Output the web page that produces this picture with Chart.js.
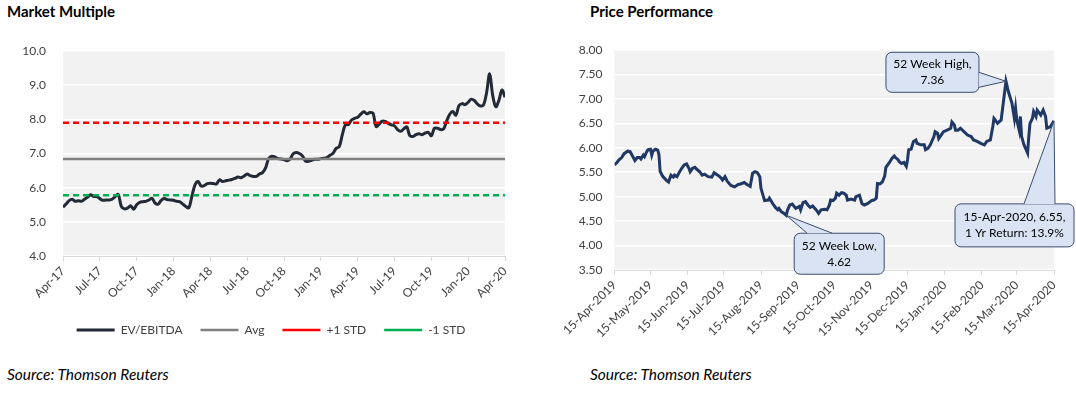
<!DOCTYPE html>
<html>
<head>
<meta charset="utf-8">
<script src="https://cdn.jsdelivr.net/npm/chart.js@4.4.1/dist/chart.umd.min.js"></script>
<style>
  body { margin: 0; width: 1076px; height: 395px; background: #fff; position: relative; overflow: hidden; font-family: Lato, sans-serif; }
  .title { position: absolute; top: 2px; font-weight: bold; font-size: 15px; color: #000; white-space: nowrap; }
  .source { position: absolute; top: 365px; font-style: italic; font-size: 15.5px; color: #000; white-space: nowrap; }
  canvas { position: absolute; top: 0; }
  #multipleChart { left: 0; }
  #priceChart { left: 540px; }
</style>
</head>
<body>
<div class="title" style="left:7px">Market Multiple</div>
<div class="title" style="left:590px">Price Performance</div>
<canvas id="multipleChart" width="540" height="360"></canvas>
<canvas id="priceChart" width="536" height="360"></canvas>
<div class="source" style="left:7px">Source: Thomson Reuters</div>
<div class="source" style="left:590px">Source: Thomson Reuters</div>

<script>
// Market multiple : EV/EBITDA, un point par quart de mois (avr. 2017 -> avr. 2020)
const multipleTickLabels = ["Apr-17", "Jul-17", "Oct-17", "Jan-18", "Apr-18", "Jul-18", "Oct-18",
  "Jan-19", "Apr-19", "Jul-19", "Oct-19", "Jan-20", "Apr-20"];
const multipleTickMonths = [0, 3, 6, 9, 12, 15, 18, 21, 24, 27, 30, 33, 36];
const evEbitda = [
  5.43, 5.52, 5.62, 5.66, 5.60, 5.62, 5.60, 5.66, 5.72, 5.79, 5.74, 5.74,
  5.68, 5.63, 5.64, 5.64, 5.66, 5.74, 5.80, 5.45, 5.38, 5.40, 5.47, 5.37,
  5.50, 5.57, 5.59, 5.60, 5.64, 5.69, 5.55, 5.52, 5.63, 5.68, 5.65, 5.64,
  5.63, 5.60, 5.59, 5.52, 5.45, 5.41, 5.75, 6.08, 6.18, 6.05, 6.06, 6.12,
  6.13, 6.12, 6.11, 6.23, 6.18, 6.20, 6.22, 6.24, 6.27, 6.31, 6.29, 6.34,
  6.40, 6.35, 6.33, 6.33, 6.40, 6.44, 6.58, 6.85, 6.92, 6.90, 6.85, 6.84,
  6.82, 6.79, 6.84, 6.99, 7.03, 7.00, 6.93, 6.78, 6.77, 6.80, 6.83, 6.83,
  6.85, 6.86, 6.88, 6.95, 7.01, 7.15, 7.20, 7.55, 7.84, 7.85, 7.98, 8.03,
  8.06, 8.15, 8.22, 8.16, 8.20, 8.18, 7.79, 7.86, 7.95, 7.94, 7.88, 7.84,
  7.81, 7.70, 7.65, 7.72, 7.78, 7.52, 7.50, 7.55, 7.58, 7.55, 7.60, 7.62,
  7.52, 7.74, 7.74, 7.70, 7.72, 7.95, 8.15, 8.23, 8.12, 8.40, 8.46, 8.43,
  8.50, 8.59, 8.55, 8.45, 8.39, 8.42, 8.78, 9.33, 8.70, 8.37, 8.55, 8.86,
  8.65
];
const evAvg = 6.84;
const evPlusStd = 7.90;
const evMinusStd = 5.78;

// Price performance : jours depuis le 15-Apr-2019 et cours
const priceTickLabels = ["15-Apr-2019", "15-May-2019", "15-Jun-2019", "15-Jul-2019", "15-Aug-2019",
  "15-Sep-2019", "15-Oct-2019", "15-Nov-2019", "15-Dec-2019", "15-Jan-2020", "15-Feb-2020",
  "15-Mar-2020", "15-Apr-2020"];
const priceTickDays = [0, 30, 61, 91, 122, 153, 183, 214, 244, 275, 306, 335, 366];
const priceDays = [
  0, 2, 4, 6, 8, 11, 13, 15, 17, 19, 21, 22, 24, 25, 27, 28, 30, 31, 32, 34, 36, 37, 38, 40,
  43, 45, 47, 49, 50, 52, 54, 56, 58, 60, 62, 63, 65, 67, 69, 71, 73, 75, 78, 81, 83, 86,
  88, 90, 92, 94, 97, 100, 103, 105, 108, 111, 113, 115, 117, 119, 121, 122, 124, 125, 128,
  129, 132, 134, 136, 137, 139, 141, 143, 144, 146, 148, 151, 154, 155, 157, 159, 161, 163,
  165, 168, 170, 172, 175, 177, 179, 180, 182, 184, 185, 187, 189, 191, 193, 194, 197, 200,
  201, 204, 206, 208, 211, 214, 216, 218, 219, 221, 223, 225, 226, 229, 231, 233, 234, 236,
  237, 239, 241, 243, 244, 245, 247, 249, 251, 252, 255, 258, 259, 261, 263, 266, 267, 269,
  270, 272, 274, 277, 280, 281, 283, 284, 286, 288, 291, 294, 297, 299, 302, 305, 308, 310,
  313, 315, 316, 317, 319, 322, 326, 328, 331, 333, 334, 335, 337, 338, 339, 341, 344, 345,
  346, 348, 349, 351, 352, 355, 357, 359, 360, 363, 366
];
const priceValues = [
  5.65, 5.70, 5.76, 5.80, 5.88, 5.93, 5.92, 5.83, 5.74, 5.80, 5.80, 5.77, 5.85, 5.82, 5.93, 5.96,
  5.97, 5.85, 5.93, 5.97, 5.95, 5.86, 5.52, 5.42, 5.34, 5.30, 5.44, 5.40, 5.44, 5.41, 5.50, 5.58,
  5.65, 5.67, 5.58, 5.51, 5.58, 5.60, 5.55, 5.51, 5.44, 5.46, 5.41, 5.40, 5.49, 5.44, 5.40, 5.34,
  5.41, 5.31, 5.23, 5.20, 5.25, 5.26, 5.29, 5.24, 5.21, 5.48, 5.51, 5.49, 5.41, 5.17, 5.00, 4.92,
  4.93, 4.97, 4.85, 4.78, 4.73, 4.76, 4.69, 4.66, 4.62, 4.72, 4.83, 4.85, 4.76, 4.80, 4.73, 4.88,
  4.90, 4.83, 4.78, 4.81, 4.73, 4.66, 4.73, 4.74, 4.73, 4.83, 4.93, 4.92, 4.97, 5.07, 5.03, 5.08,
  5.07, 5.03, 4.93, 4.95, 4.93, 5.00, 5.03, 4.86, 4.83, 4.86, 4.92, 4.93, 4.97, 5.27, 5.26, 5.30,
  5.42, 5.60, 5.70, 5.78, 5.83, 5.80, 5.76, 5.72, 5.68, 5.70, 5.62, 5.75, 5.96, 5.97, 6.13, 6.16,
  6.09, 6.06, 6.06, 5.96, 5.99, 6.06, 6.23, 6.33, 6.30, 6.19, 6.26, 6.33, 6.36, 6.40, 6.53, 6.47,
  6.36, 6.36, 6.40, 6.33, 6.26, 6.23, 6.16, 6.13, 6.09, 6.06, 6.13, 6.16, 6.43, 6.60, 6.57, 6.50,
  6.57, 7.36, 7.15, 6.91, 6.60, 6.81, 6.57, 6.36, 6.64, 6.23, 6.06, 5.89, 6.23, 6.50, 6.60, 6.74,
  6.64, 6.77, 6.67, 6.77, 6.64, 6.40, 6.43, 6.55
];

const tickFont = { family: "Lato", size: 12 };
const tickColor = "#404040";

const plotBackground = {
  id: "plotBackground",
  beforeDraw(chart) {
    const { ctx, chartArea: a } = chart;
    ctx.save();
    ctx.fillStyle = "#F2F2F2";
    ctx.fillRect(a.left, a.top, a.right - a.left, a.bottom - a.top);
    ctx.restore();
  }
};

// recentre la légende sous le graphique de gauche
const legendShift = {
  id: "legendShift",
  afterLayout(chart) {
    chart.legend.left += 10.5;
    chart.legend.right += 10.5;
  }
};

// bulles d'annotation : position de la boîte relative au point visé
const priceCallouts = [
  { index: priceValues.indexOf(7.36), lines: ["52 Week High,", "7.36"],
    box: [-120, -29, 93, 40], base: "right", b1: -9, b2: 6 },
  { index: priceValues.indexOf(4.62), lines: ["52 Week Low,", "4.62"],
    box: [8, 18, 90, 41], base: "top", b1: 21, b2: 46 },
  { index: priceValues.length - 1, lines: ["15-Apr-2020, 6.55,", "1 Yr Return: 13.9%"],
    box: [-99, 83, 119, 43], base: "top", b1: -30, b2: 1 }
];

const calloutPlugin = {
  id: "callouts",
  afterDatasetsDraw(chart) {
    const { ctx, scales } = chart;
    priceCallouts.forEach(c => {
      const tx = scales.x.getPixelForValue(priceDays[c.index]);
      const ty = scales.y.getPixelForValue(priceValues[c.index]);
      const bx = tx + c.box[0], by = ty + c.box[1], bw = c.box[2], bh = c.box[3];
      let p1, p2;
      if (c.base === "right") {
        p1 = [bx + bw, ty + c.b1]; p2 = [bx + bw, ty + c.b2];
      } else {
        p1 = [tx + c.b1, by]; p2 = [tx + c.b2, by];
      }
      ctx.save();
      ctx.fillStyle = "#DAE3F3";
      ctx.strokeStyle = "#3A4D6E";
      ctx.lineWidth = 1;
      ctx.beginPath();
      ctx.roundRect(bx, by, bw, bh, 6);
      ctx.fill();
      ctx.stroke();
      ctx.beginPath();
      ctx.moveTo(p1[0], p1[1]);
      ctx.lineTo(tx, ty);
      ctx.lineTo(p2[0], p2[1]);
      ctx.closePath();
      ctx.fill();
      ctx.beginPath();
      ctx.moveTo(p1[0], p1[1]);
      ctx.lineTo(tx, ty);
      ctx.lineTo(p2[0], p2[1]);
      ctx.stroke();
      ctx.fillStyle = "#000";
      ctx.font = "12px Lato";
      ctx.textAlign = "center";
      ctx.textBaseline = "middle";
      const cy = by + bh / 2;
      ctx.fillText(c.lines[0], bx + bw / 2, cy - 8);
      ctx.fillText(c.lines[1], bx + bw / 2, cy + 8);
      ctx.restore();
    });
  }
};

new Chart(document.getElementById("multipleChart"), {
  type: "line",
  data: {
    datasets: [
      { label: "EV/EBITDA", data: evEbitda.map((v, i) => ({ x: i / 4, y: v })),
        borderColor: "#222A35", borderWidth: 3, tension: 0.35, pointRadius: 0, order: 1 },
      { label: "Avg", data: [{ x: 0, y: evAvg }, { x: 36, y: evAvg }],
        borderColor: "#808080", borderWidth: 2.5, pointRadius: 0, order: 0 },
      { label: "+1 STD", data: [{ x: 0, y: evPlusStd }, { x: 36, y: evPlusStd }],
        borderColor: "#FF0000", borderWidth: 2.5, borderDash: [6, 4], pointRadius: 0, order: 0 },
      { label: "-1 STD", data: [{ x: 0, y: evMinusStd }, { x: 36, y: evMinusStd }],
        borderColor: "#00B050", borderWidth: 2.5, borderDash: [6, 4], pointRadius: 0, order: 0 }
    ]
  },
  options: {
    responsive: false,
    animation: false,
    events: [],
    layout: { padding: { top: 51, left: 16, right: 35, bottom: 14 } },
    scales: {
      x: {
        type: "linear", min: 0, max: 36,
        afterBuildTicks: s => { s.ticks = multipleTickMonths.map(v => ({ value: v })); },
        afterFit: s => { s.height = 50; },
        ticks: { autoSkip: false, minRotation: 45, maxRotation: 45, color: tickColor, font: tickFont,
          callback: (v, i) => multipleTickLabels[i] },
        grid: { drawOnChartArea: false, drawTicks: true, tickLength: 5, color: "#D9D9D9" },
        border: { display: true, color: "#D9D9D9" }
      },
      y: {
        min: 4, max: 10,
        afterFit: s => { s.width = 47; },
        ticks: { stepSize: 1, padding: 17, color: tickColor, font: tickFont, callback: v => v.toFixed(1) },
        grid: { color: "#FFFFFF", lineWidth: 1.5, drawTicks: false },
        border: { display: false }
      }
    },
    plugins: {
      tooltip: { enabled: false },
      legend: {
        position: "bottom",
        labels: {
          usePointStyle: true, pointStyle: "line", pointStyleWidth: 38,
          padding: 18, color: tickColor, font: tickFont,
          sort: (a, b) => a.datasetIndex - b.datasetIndex
        }
      }
    }
  },
  plugins: [plotBackground, legendShift]
});

new Chart(document.getElementById("priceChart"), {
  type: "line",
  data: {
    datasets: [
      { label: "Price", data: priceValues.map((v, i) => ({ x: priceDays[i], y: v })),
        borderColor: "#1F3864", borderWidth: 3, tension: 0, pointRadius: 0 }
    ]
  },
  options: {
    responsive: false,
    animation: false,
    events: [],
    layout: { padding: { top: 50, left: 30.5, right: 22, bottom: 10 } },
    scales: {
      x: {
        type: "linear", min: 0, max: 366,
        afterBuildTicks: s => { s.ticks = priceTickDays.map(v => ({ value: v })); },
        afterFit: s => { s.height = 80; },
        ticks: { autoSkip: false, minRotation: 45, maxRotation: 45, color: tickColor, font: tickFont,
          callback: (v, i) => priceTickLabels[i] },
        grid: { drawOnChartArea: false, drawTicks: true, tickLength: 5, color: "#D9D9D9" },
        border: { display: true, color: "#D9D9D9" }
      },
      y: {
        min: 3.5, max: 8,
        afterFit: s => { s.width = 44; },
        ticks: { stepSize: 0.5, padding: 12, color: tickColor, font: tickFont, callback: v => v.toFixed(2) },
        grid: { color: "#FFFFFF", lineWidth: 1.5, drawTicks: false },
        border: { display: false }
      }
    },
    plugins: {
      tooltip: { enabled: false },
      legend: { display: false }
    }
  },
  plugins: [plotBackground, calloutPlugin]
});
</script>
</body>
</html>
